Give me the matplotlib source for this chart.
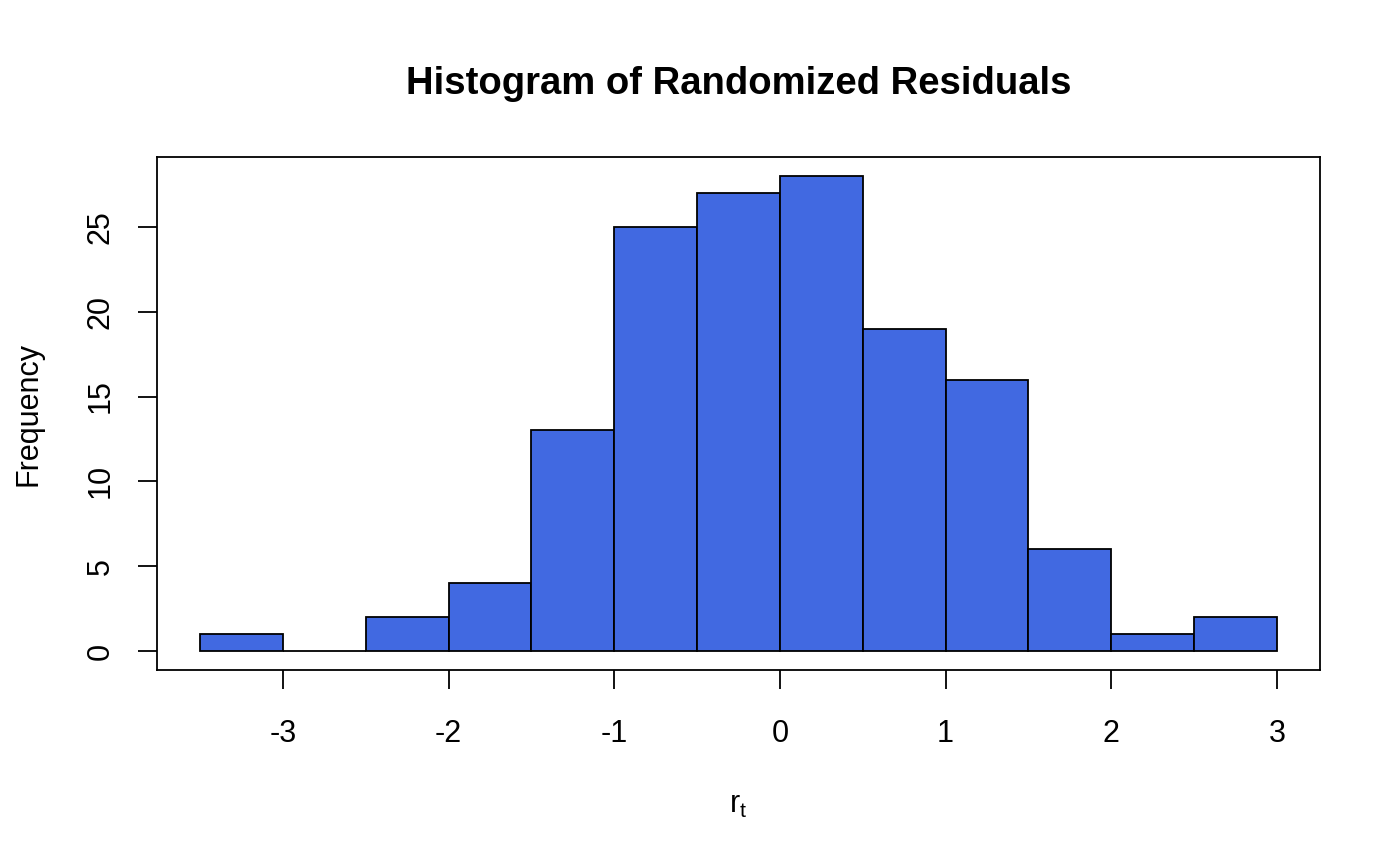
import numpy as np
import matplotlib.pyplot as plt

plt.rcParams['font.family'] = ['Liberation Sans', 'DejaVu Sans']

# histogram bins and counts
edges = [-3.5, -3.0, -2.5, -2.0, -1.5, -1.0, -0.5, 0.0, 0.5, 1.0, 1.5, 2.0, 2.5, 3.0]
counts = [1, 0, 2, 4, 13, 25, 27, 28, 19, 16, 6, 1, 2]
xticks = [-3, -2, -1, 0, 1, 2, 3]
yticks = [0, 5, 10, 15, 20, 25]

fig = plt.figure(figsize=(14, 8.66), dpi=100)
ax = fig.add_axes([157/1400, 1 - 670/866, (1320-157)/1400, (670-157)/866])

left = np.array(edges[:-1])
width = np.diff(edges)
ax.bar(left, counts, width=width, align='edge', color='#4169E1',
       edgecolor='black', linewidth=1.3)

ax.set_xlim(-3.5 - 0.26, 3.0 + 0.26)
ax.set_ylim(-1.12, 29.12)
ax.set_xticks(xticks)
ax.set_xticklabels([str(t) for t in xticks])
ax.set_yticks(yticks)
ax.set_yticklabels([str(t) for t in yticks], rotation=90, va='center')
ax.tick_params(axis='both', length=14, width=1.3, labelsize=22)
ax.tick_params(axis='x', pad=21)
ax.tick_params(axis='y', pad=16)
for s in ax.spines.values():
    s.set_linewidth(1.3)

ax.set_title('Histogram of Randomized Residuals', fontsize=27.5, fontweight='bold', pad=45)
ax.set_ylabel('Frequency', fontsize=22, labelpad=30)
ax.set_xlabel('$\\mathregular{r_t}$', fontsize=22, labelpad=30)

fig.savefig('out.png', dpi=100)
